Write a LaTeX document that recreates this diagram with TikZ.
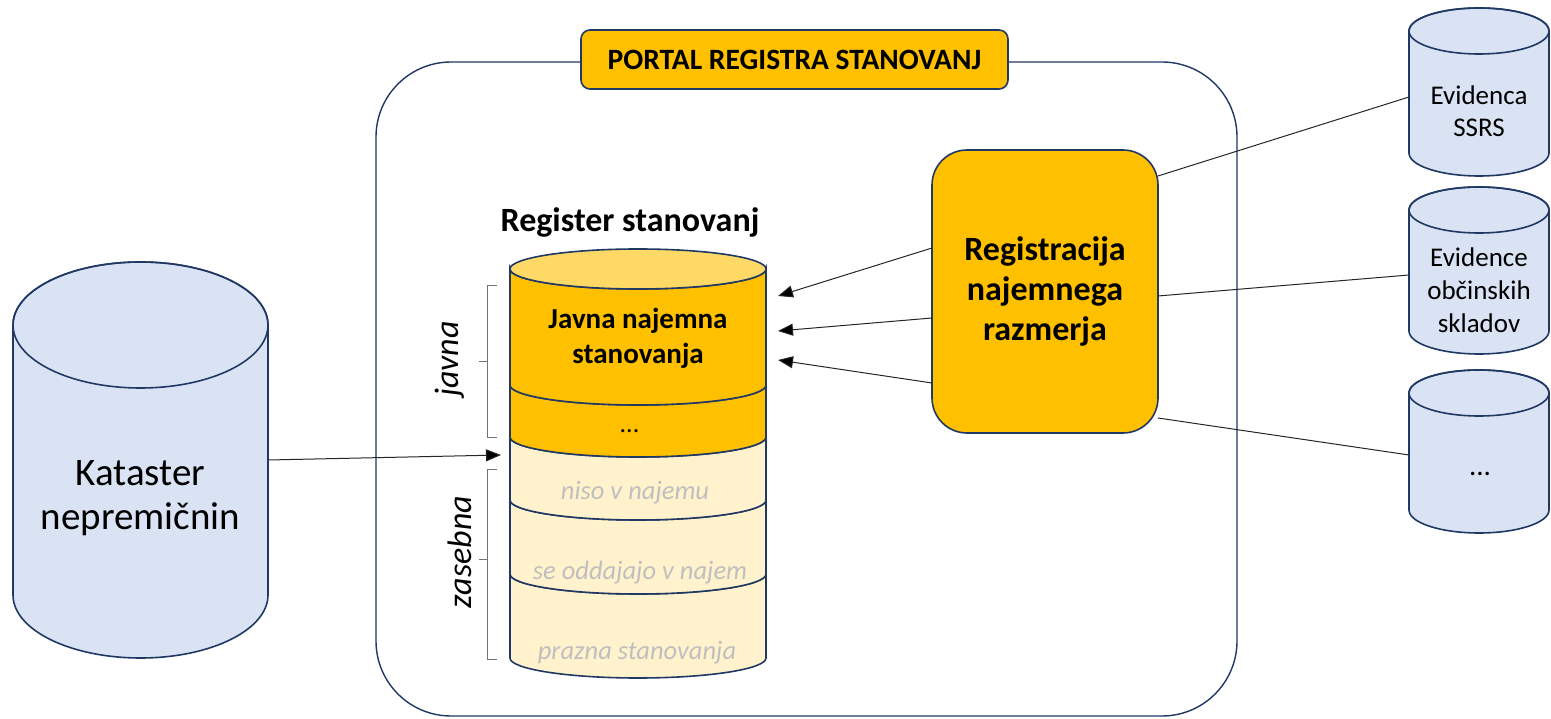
\documentclass[tikz,border=0pt]{standalone}
\usepackage{fontspec}
\setmainfont{Carlito}
\usetikzlibrary{arrows.meta}
\definecolor{navy}{HTML}{203864}
\definecolor{gold}{HTML}{FFC000}
\definecolor{goldtop}{HTML}{FFD966}
\definecolor{cream}{HTML}{FFF2CC}
\definecolor{cylblue}{HTML}{DAE3F3}
\definecolor{graytxt}{HTML}{BFBFBF}
\newcommand{\fs}[2]{\fontsize{#1}{#2}\selectfont}
\begin{document}
\begin{tikzpicture}[x=1pt,y=1pt,
  outline/.style={draw=navy,line width=1.6pt},
  conn/.style={draw=black!85,line width=1pt},
  arr/.style={conn,-{Triangle[length=15pt,width=12pt,fill=black]}},
  brk/.style={draw=black!55,line width=1pt},
  graylbl/.style={text=graytxt,font=\fs{26.5}{30}\itshape},
]
\useasboundingbox (0,0) rectangle (1551,718);
% outer portal box
\draw[outline,line width=1.4pt,rounded corners=75pt] (376,2) rectangle (1237,656);
\node[outline,fill=gold,rounded corners=9pt,minimum width=427pt,minimum height=59pt,
      font=\fs{29.5}{33}\bfseries] (portal) at (794.5,658.5) {PORTAL REGISTRA STANOVANJ};

% Katastar cylinder
\path[outline,fill=cylblue] (13,393) -- (13,123) arc[start angle=180,end angle=360,x radius=127.5,y radius=63]
   -- (268,393) arc[start angle=0,end angle=180,x radius=127.5,y radius=63] -- cycle;
\draw[outline] (140.5,393) ellipse[x radius=127.5,y radius=63];
\node[align=center,font=\fs{39}{44}] (kat) at (140.5,220) {Kataster\\nepremičnin};

% Register cylinder segments
\newcommand{\seg}[3]{%
  \path[outline,fill=#3] (510,#1) -- (510,#2) arc[start angle=180,end angle=360,x radius=128,y radius=20]
     -- (766,#1) arc[start angle=0,end angle=-180,x radius=128,y radius=20] -- cycle;}
\seg{144}{60}{cream}
\seg{218}{144}{cream}
\seg{281}{218}{cream}
\seg{333}{281}{gold}
\seg{449}{333}{gold}
\draw[outline,fill=goldtop] (638,449) ellipse[x radius=128,y radius=20];
\node[font=\fs{34}{38}\bfseries] (regtitle) at (630,496) {Register stanovanj};
\node[align=center,font=\fs{29}{35}\bfseries] (javnatxt) at (638,380) {Javna najemna\\stanovanja};
\node[font=\fs{26}{30}\itshape] (dots1) at (630,287) {...};
\node[graylbl] (niso) at (635,225) {niso v najemu};
\node[graylbl] (oddaj) at (640,145) {se oddajajo v najem};
\node[graylbl] (prazna) at (637,65) {prazna stanovanja};

% brackets
\draw[brk] (497,432) -- (487,432) -- (487,280) -- (497,280);
\draw[brk] (487,356) -- (479,356);
\draw[brk] (497,248) -- (487,248) -- (487,58) -- (497,58);
\draw[brk] (487,158) -- (479,158);
\node[rotate=90,font=\fs{34}{38}\itshape] (javna) at (450,359) {javna};
\node[rotate=90,font=\fs{34}{38}\itshape] (zasebna) at (460,166) {zasebna};

% Registracija box
\node[outline,fill=gold,rounded corners=35pt,minimum width=226pt,minimum height=283pt,
      align=center,font=\fs{34}{40}\bfseries] (reg) at (1045,426.5) {Registracija\\najemnega\\razmerja};

% right cylinders
\newcommand{\rcyl}[2]{%
  \path[outline,fill=cylblue] (1409,#1) -- (1409,#2) arc[start angle=180,end angle=360,x radius=70,y radius=23]
     -- (1549,#1) arc[start angle=0,end angle=180,x radius=70,y radius=23] -- cycle;
  \draw[outline] (1479,#1) ellipse[x radius=70,y radius=23];}
\rcyl{687}{565}
\rcyl{508}{387}
\rcyl{325}{208}
\node[align=center,font=\fs{27}{32}] (ssrs) at (1479,607) {Evidenca\\SSRS};
\node[align=center,font=\fs{27}{33}] (obc) at (1479,428) {Evidence\\občinskih\\skladov};
\node[font=\fs{29}{33}] (dots2) at (1480,244) {...};

% connector anchors
\coordinate (r1) at (932,470); \coordinate (t1) at (778,422);
\coordinate (r2) at (932,400); \coordinate (t2) at (778,387);
\coordinate (r3) at (932,335); \coordinate (t3) at (778,358);
\coordinate (k1) at (268,258); \coordinate (k2) at (501,263);
\coordinate (s1) at (1158,542); \coordinate (c1) at (1409,621);
\coordinate (s2) at (1158,422); \coordinate (c2) at (1409,443);
\coordinate (s3) at (1158,300); \coordinate (c3) at (1409,263);

\draw[arr] (r1) -- (t1);
\draw[arr] (r2) -- (t2);
\draw[arr] (r3) -- (t3);
\draw[arr] (k1) -- (k2);
\draw[conn] (s1) -- (c1);
\draw[conn] (s2) -- (c2);
\draw[conn] (s3) -- (c3);
\end{tikzpicture}
\end{document}
